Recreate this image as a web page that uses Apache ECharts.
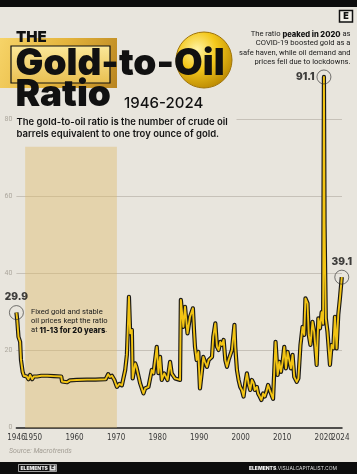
<!DOCTYPE html>
<html><head><meta charset="utf-8">
<script src="https://cdn.jsdelivr.net/npm/echarts@6/dist/echarts.min.js"></script>
<style>html,body{margin:0;padding:0;background:#e8e5dd;}#c{width:357px;height:474px;}</style>
</head><body><div id="c"></div>
<script>
// ---- data ----
const years = [1946.0,1946.2,1946.5,1946.9,1947.1,1947.5,1947.8,1948.5,1948.9,1949.3,1949.8,1950.2,1951.0,1952.0,1953.5,1955.0,1956.8,1957.0,1957.3,1958.2,1958.9,1960.5,1963.0,1965.0,1967.5,1968.1,1968.5,1969.0,1969.6,1970.2,1970.8,1971.4,1972.2,1972.6,1973.1,1973.4,1973.8,1974.0,1974.6,1974.9,1975.8,1976.6,1977.0,1977.8,1978.6,1979.0,1979.8,1980.2,1980.6,1981.0,1981.6,1982.4,1983.0,1983.4,1984.2,1985.4,1985.6,1986.2,1986.6,1987.2,1987.8,1988.5,1988.8,1989.0,1989.4,1989.8,1990.2,1990.7,1991.0,1991.4,1991.9,1992.3,1993.1,1993.4,1993.9,1994.3,1994.7,1995.1,1995.5,1995.9,1996.3,1996.7,1997.1,1997.5,1997.9,1998.5,1998.7,1999.1,1999.5,1999.9,2000.3,2000.7,2001.1,2001.5,2001.9,2002.3,2002.7,2003.1,2003.4,2003.9,2004.2,2004.6,2005.0,2005.4,2005.8,2006.2,2006.6,2007.0,2007.4,2007.8,2008.1,2008.4,2008.9,2009.3,2009.7,2010.1,2010.5,2010.9,2011.3,2011.7,2012.1,2012.5,2012.9,2013.5,2013.9,2014.4,2014.9,2015.3,2015.6,2016.1,2016.4,2016.8,2017.3,2017.7,2018.3,2018.7,2019.1,2019.5,2019.85,2020.05,2020.2,2020.35,2020.5,2020.9,2021.5,2021.9,2022.3,2022.7,2023.1,2023.5,2023.9,2024.35];
const ratio = [29.9,28.0,23.6,22.3,17.6,14.5,13.5,13.3,12.6,13.7,12.6,13.3,13.3,13.5,13.5,13.4,13.3,12.0,11.7,11.8,12.3,12.4,12.5,12.5,12.6,13.9,13.2,13.5,12.4,10.6,11.4,11.0,15.0,18.9,34.0,24.5,25.4,12.8,16.7,15.8,11.5,8.9,10.2,10.6,15.0,14.1,21.0,14.2,18.4,12.4,14.1,12.4,17.1,14.1,12.8,12.4,33.2,26.2,31.4,24.5,28.8,31.0,24.6,21.0,17.6,19.7,10.2,15.0,18.4,17.1,15.8,17.6,18.4,23.6,27.1,21.0,20.2,22.3,21.5,22.8,17.6,15.8,17.6,17.1,20.2,26.7,21.0,15.0,12.4,10.6,9.8,8.1,11.5,14.1,11.5,9.8,12.4,11.5,9.8,10.6,8.9,8.1,7.2,8.9,8.1,9.4,11.1,9.8,9.4,7.5,7.2,22.3,13.7,17.1,14.5,17.1,21.0,15.4,19.7,20.2,15.4,18.9,13.2,11.9,12.8,21.5,26.2,24.1,33.6,32.3,24.1,21.5,27.5,24.9,16.3,28.4,25.8,30.0,27.0,91.1,53.0,40.0,28.4,24.9,16.3,21.5,20.6,28.8,20.6,29.3,33.6,39.1];
const highlightYears = [1946.0, 2020.05, 2024.35];
const highlightValues = [29.9, 91.1, 39.1];
const xTickLabels = [1950,1960,1970,1980,1990,2000,2010,2020];
const xEndLabels = [1946,2024];
const shadeYears = [1948.1, 1970.2];
const shadeTop = 73;

const BG = '#e8e5dd';
const chart = echarts.init(document.getElementById('c'), null, {renderer:'canvas'});
const lineData = years.map((y,i)=>[y, ratio[i]]);
const hlLabelPos = ['top','left','top'];
const hlData = highlightYears.map((y,i)=>({value:[y, highlightValues[i]], label:{position: hlLabelPos[i], distance: i===1?2:3}}));
const xLabelStyle = {color: '#3a3a3a', fontSize: 8, margin: 6, fontFamily: "'Liberation Sans Narrow', 'DejaVu Sans Condensed', Roboto", formatter: v => String(v)};

chart.setOption({
  backgroundColor: BG,
  animation: false,
  grid: {left: 16.4, right: 15, top: 119.7, bottom: 46.3, containLabel: false, outerBoundsMode: 'none'},
  xAxis: [{
    type: 'value', min: 1946, max: 2024.4, position: 'bottom',
    axisLine: {show: true, onZero: false, lineStyle: {color: '#1c1c1c', width: 1.5}},
    axisTick: {show: false},
    splitLine: {show: false},
    axisLabel: Object.assign({customValues: xTickLabels}, xLabelStyle)
  }, {
    type: 'value', min: 1946, max: 2024.4, position: 'bottom', offset: 0,
    axisLine: {show: false}, axisTick: {show: false}, splitLine: {show: false},
    axisLabel: Object.assign({customValues: xEndLabels}, xLabelStyle)
  }],
  yAxis: {
    type: 'value', min: 0, max: 80, interval: 20,
    axisLine: {show: false}, axisTick: {show: false},
    splitLine: {show: true, showMinLine: false, lineStyle: {color: '#b7b2a8', width: 0.7}},
    axisLabel: {color: '#aca79d', fontSize: 7, margin: 4, fontFamily: 'Roboto'}
  },
  series: [
    {
      type: 'line', data: lineData, symbol: 'none', clip: false, z: 3, xAxisIndex: 0,
      lineStyle: {color: '#1b1a17', width: 4.2, join: 'round'},
      markArea: {silent: true, itemStyle: {color: 'rgba(222,185,100,0.40)'},
        data: [[{xAxis: shadeYears[0], yAxis: 0}, {xAxis: shadeYears[1], yAxis: shadeTop}]]}
    },
    {
      type: 'line', data: lineData, symbol: 'none', clip: false, z: 4, xAxisIndex: 0,
      lineStyle: {color: '#f2c414', width: 1.9, join: 'round'}
    },
    {
      type: 'scatter', data: hlData, clip: false, z: 5, symbol: 'circle', symbolSize: 14, xAxisIndex: 0,
      itemStyle: {color: 'rgba(0,0,0,0)', borderColor: '#2a2a2a', borderWidth: 0.8},
      label: {show: true, formatter: p => p.value[1].toFixed(1), fontFamily: 'Inter', fontWeight: 900,
        fontSize: 10, color: '#111', position: 'top', distance: 3}
    }
  ],
  graphic: [
    {type:'rect', shape:{x:0,y:0,width:357,height:7}, style:{fill:'#0d0d0d'}, z:10},
    // gold bar
    {type:'rect', shape:{x:-2,y:38,width:119,height:50}, z:5,
      style:{fill:new echarts.graphic.LinearGradient(0,0,1,1,[{offset:0,color:'#f7d56a'},{offset:0.5,color:'#e4b43c'},{offset:1,color:'#b98520'}])}},
    {type:'rect', shape:{x:11,y:46,width:99,height:37}, z:6,
      style:{fill:new echarts.graphic.LinearGradient(0,0,0,1,[{offset:0,color:'#fbe89a'},{offset:1,color:'#e9bf50'}]), stroke:'#111', lineWidth:1.2}},
    // oil drop
    {type:'circle', shape:{cx:204,cy:60,r:28}, z:5,
      style:{fill:new echarts.graphic.RadialGradient(0.38,0.32,0.75,[{offset:0,color:'#fff4a6'},{offset:0.45,color:'#f4c81c'},{offset:1,color:'#b58300'}]), stroke:'#a07408', lineWidth:1}},
    {type:'text', x:16, y:37.5, z:11, style:{text:'THE', font:'900 15px Inter', fill:'#111', verticalAlign:'middle'}},
    {type:'text', x:15.5, y:64, z:11, style:{text:'Gold-to-Oil', font:'900 37px Inter', fill:'#111', verticalAlign:'middle'}},
    {type:'text', x:15.5, y:94.5, z:11, style:{text:'Ratio', font:'900 37px Inter', fill:'#111', verticalAlign:'middle'}},
    {type:'text', x:124, y:103, z:11, style:{text:'1946-2024', font:'500 15px Inter', fill:'#111', verticalAlign:'middle'}},
    {type:'rect', shape:{x:16.5,y:116,width:220,height:7}, style:{fill:BG}, z:1},
    {type:'text', x:16.5, y:116, z:11, style:{text:'The gold-to-oil ratio is the number of crude oil\nbarrels equivalent to one troy ounce of gold.', font:'600 9.5px Inter', lineHeight:12, fill:'#151515', verticalAlign:'top'}},
    {type:'text', x:350.5, y:29.7, z:11, style:{
      text:'{n|The ratio }{b|peaked in 2020}{n| as}\n{n|COVID-19 boosted gold as a}\n{n|safe haven, while oil demand and}\n{n|prices fell due to lockdowns.}',
      align:'right', verticalAlign:'top',
      rich:{n:{fontFamily:'Roboto', fontSize:7.6, lineHeight:9.2, fill:'#1a1a1a', align:'right'},
            b:{fontFamily:'Inter', fontWeight:800, fontSize:7.6, lineHeight:9.2, fill:'#111', align:'right'}}}},
    {type:'text', x:31, y:307, z:11, style:{
      text:'{n|Fixed gold and stable}\n{n|oil prices kept the ratio}\n{n|at }{b|11-13 for 20 years}{n|.}',
      verticalAlign:'top',
      rich:{n:{fontFamily:'Roboto', fontSize:7.6, lineHeight:9.3, fill:'#1a1a1a'},
            b:{fontFamily:'Inter', fontWeight:800, fontSize:7.6, lineHeight:9.3, fill:'#111'}}}},
    {type:'text', x:9, y:451, z:11, style:{text:'Source: Macrotrends', font:'italic 7px Roboto', fill:'#a29d94', verticalAlign:'middle'}},
    // E logo
    {type:'rect', shape:{x:339.5,y:10.5,width:13,height:11.5}, z:11, style:{fill:'#f3f1ea', stroke:'#111', lineWidth:1.5}},
    {type:'text', x:346, y:16.5, z:12, style:{text:'E', font:'900 9px Inter', fill:'#111', align:'center', verticalAlign:'middle'}},
    // bottom bar
    {type:'rect', shape:{x:0,y:462,width:357,height:12}, style:{fill:'#0d0d0d'}, z:10},
    {type:'rect', shape:{x:18.5,y:464.5,width:38,height:7}, z:11, style:{fill:'none', stroke:'#ddd', lineWidth:0.7}},
    {type:'rect', shape:{x:49.5,y:465.3,width:6.2,height:5.4}, z:11, style:{fill:'#ddd'}},
    {type:'text', x:20.5, y:468.2, z:12, style:{text:'ELEMENTS', font:'900 5px Inter', fill:'#eee', verticalAlign:'middle'}},
    {type:'text', x:52.6, y:468.1, z:12, style:{text:'E', font:'900 4.5px Inter', fill:'#111', align:'center', verticalAlign:'middle'}},
    {type:'text', x:337, y:468.5, z:12, style:{text:'{b|ELEMENTS}{n|.VISUALCAPITALIST.COM}', align:'right', verticalAlign:'middle',
      rich:{b:{fontFamily:'Inter', fontWeight:900, fontSize:5, fill:'#eee'}, n:{fontFamily:'Inter', fontSize:5, fill:'#ddd'}}}}
  ]
});
</script>
</body></html>
